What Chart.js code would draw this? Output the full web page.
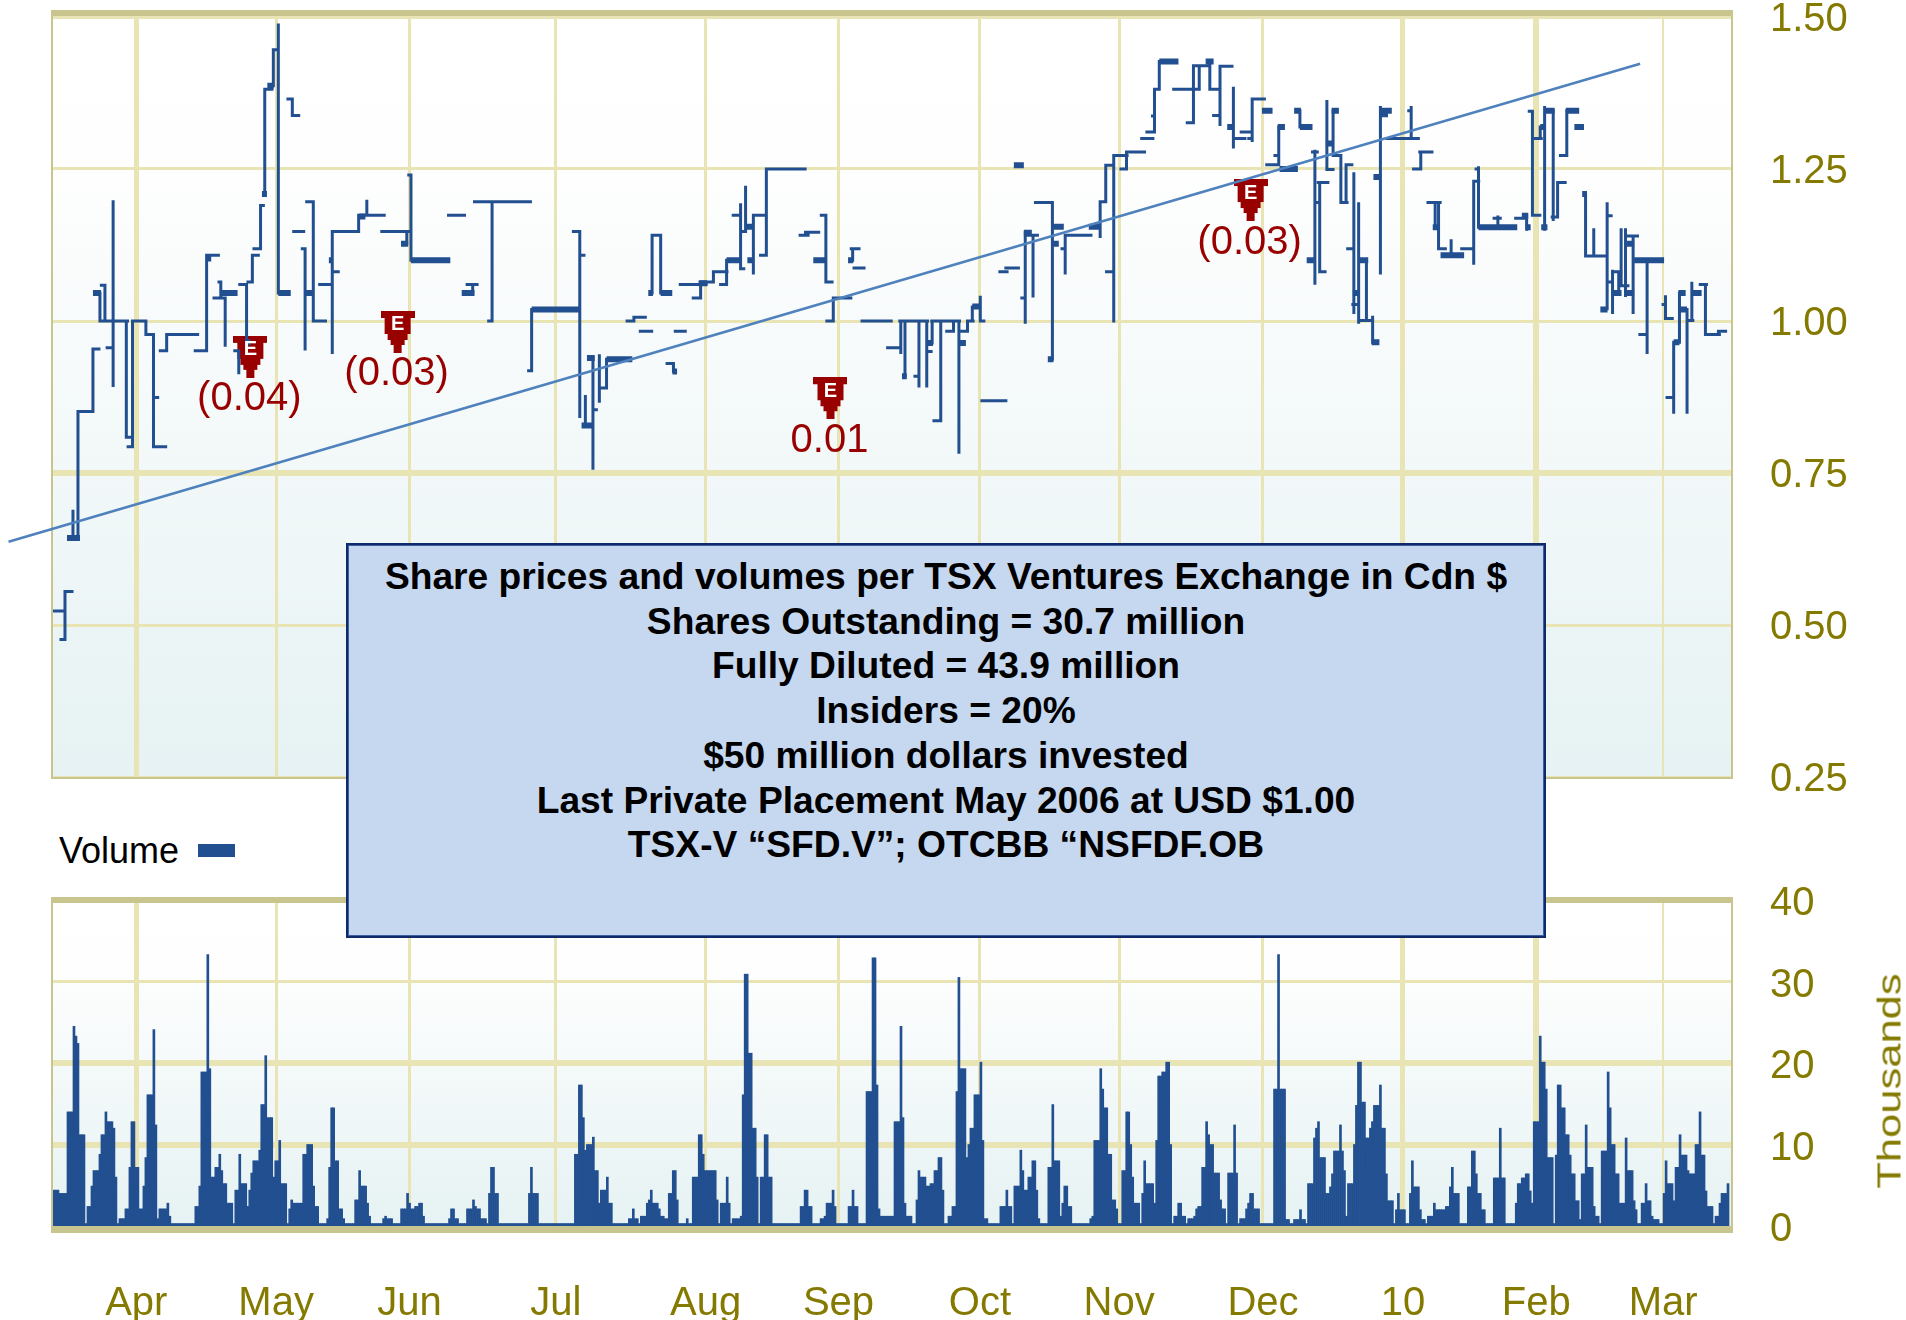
<!DOCTYPE html>
<html>
<head>
<meta charset="utf-8">
<title>Share prices and volumes</title>
<script src="https://cdn.jsdelivr.net/npm/chart.js@4/dist/chart.umd.min.js"></script>
<style>
    html, body { margin: 0; padding: 0; background: #fff; width: 1906px; height: 1320px; overflow: hidden; }
    canvas { position: absolute; left: 0; }
    #priceChart { top: 0; }
    #volumeChart { top: 880px; }
    #legendText { position: absolute; left: 59px; top: 830px; font: 36px "Liberation Sans"; color: #000; }
    #legendBox { position: absolute; left: 198px; top: 844px; width: 37px; height: 13px; background: #214f90; }
    #thousands {
        position: absolute; left: 1889px; top: 1081px; font: 34px "Liberation Sans"; color: #857a00;
        white-space: nowrap; transform: translate(-50%, -50%) rotate(-90deg) scaleX(1.28);
    }
    #infoBox {
        position: absolute; left: 346px; top: 543px; width: 1196px;
        background: #c6d8f0; border: 2px solid #0f2a6b; box-shadow: inset 0 0 0 1px #3d5f9e;
        font: bold 37.2px/44.7px "Liberation Sans"; color: #000; text-align: center; padding-top: 9px;
        box-sizing: content-box; height: 382px;
    }
</style>
</head>
<body>
<canvas id="priceChart" width="1906" height="800"></canvas>
<canvas id="volumeChart" width="1906" height="440"></canvas>
<div id="legendText">Volume</div>
<div id="legendBox"></div>
<div id="thousands">Thousands</div>
<div id="infoBox">
    Share prices and volumes per TSX Ventures Exchange in Cdn $<br>
    Shares Outstanding = 30.7 million<br>
    Fully Diluted = 43.9 million<br>
    Insiders = 20%<br>
    $50 million dollars invested<br>
    Last Private Placement May 2006 at USD $1.00<br>
    TSX-V “SFD.V”; OTCBB “NSFDF.OB
</div>
<script>
// x axis runs over 840 time slots, one year of trading
const monthLabels = ["Apr", "May", "Jun", "Jul", "Aug", "Sep", "Oct", "Nov", "Dec", "10", "Feb", "Mar"];
const monthSlots = [41.7, 111.7, 178.5, 251.7, 326.7, 393.2, 464, 533.7, 605.7, 675.8, 742.5, 806];
const monthLineWidths = [5, 3, 3, 3, 3, 3, 3, 3, 3, 5, 6, 2];

const priceTicks = [0.25, 0.5, 0.75, 1, 1.25, 1.5];
const priceLineWidths = [3, 3, 6, 3, 3, 4];
const volumeTicks = [0, 10, 20, 30, 40];
const volumeLineWidths = [0, 6, 6, 3, 0];

// price path, each line of the two arrays is one unbroken run, null = no trades
const priceSlots = [
    0, 6, null,
    9.5, 6, 6, 4, null,
    10, 10, null,
    12.5, 12.5, 20, 20, 23, null,
    24.2, 26, 26, null,
    23.5, 23.5, 37.3, null,
    30.1, 30.1, null,
    27.1, 30.1, null,
    36.7, 36.7, 39.6, null,
    37.6, 39.8, 39.8, 46.5, 46.5, 50.3, 50.3, 56.4, null,
    50.3, 52.4, null,
    53.7, 56.9, 56.9, 72.4, null,
    71.2, 76.9, 76.9, 82.8, null,
    83.1, 84, 84, null,
    80.6, 86.2, 86.2, null,
    91, 93, 93, null,
    93.5, 96.9, 96.9, null,
    97.6, 99.8, 99.8, 102.8, null,
    100.6, 103.9, 103.9, 105.3, null,
    106, 106, 109.6, null,
    110.3, 110.3, 112.8, null,
    112.8, 112.8, null,
    117.6, 119.8, 119.8, 123, null,
    120.5, 125.5, null,
    124.8, 126.2, 126.2, null,
    127, 130.3, 130.3, 136.4, null,
    133.5, 139.8, null,
    139.8, 139.8, 153, 153, 165.8, null,
    157.1, 157.1, null,
    139.8, 142.8, null,
    164.6, 179.2, null,
    178.1, 179.2, 179.2, null,
    177.1, 177.1, null,
    198, 206, null,
    211, 239, null,
    219.8, 219.8, 218.1, null,
    207.3, 212.3, null,
    210.1, 210.1, null,
    239.6, 239.6, 238.1, null,
    260.5, 263.7, 263.7, null,
    263.7, 265.8, null,
    270.3, 270.3, null,
    266.5, 266.5, null,
    270.3, 272, null,
    273.5, 273.5, null,
    273.5, 277.1, 277.1, null,
    287.4, 290.8, 290.8, 296.5, null,
    294, 299.7, null,
    311.5, 316.5, null,
    307.4, 310.6, 310.6, null,
    299.9, 299.9, 304.2, 304.2, null,
    314, 327, null,
    320.5, 324.2, 324.2, null,
    323.9, 330.6, 330.6, 337.4, null,
    334.2, 337.2, 337.2, null,
    344.2, 344.2, 345.8, null,
    340.5, 344.2, null,
    346.7, 346.7, 344.6, null,
    350.6, 350.6, 357.1, 357.1, 376.5, null,
    354.2, 357.1, 357.1, null,
    374, 378, null,
    376.7, 383.3, null,
    384.6, 386.9, 386.9, 390, null,
    399.6, 403.5, null,
    400.3, 400.3, null,
    401, 406, null,
    387.4, 390.6, 390.6, 399.4, null,
    405, 419.6, null,
    423.9, 437.8, null,
    424.4, 424.4, null,
    417.8, 424.4, null,
    426.5, 426.5, null,
    433.5, 433.5, null,
    431.5, 433.5, null,
    437.4, 437.4, null,
    437.4, 439.6, null,
    439.9, 453.8, null,
    440.1, 440.1, null,
    444.4, 444.4, 441, null,
    447.4, 450.8, 450.8, null,
    453.5, 453.5, null,
    453.5, 457.8, 457.8, 460.6, null,
    460.2, 460.2, null,
    464.2, 464.2, 466, null,
    465, 477, null,
    474, 477.6, null,
    477, 483.3, null,
    486.7, 486.7, null,
    485, 486.7, null,
    486.7, 492.8, null,
    490.6, 490.6, null,
    491.8, 500.3, 500.3, null,
    505.1, 506.7, null,
    506.7, 506.7, 519.6, null,
    524.2, 524.2, 527, 527, 530.6, null,
    531, 531, 537.7, null,
    527.4, 531, null,
    534.6, 537.4, 537.4, 546.4, null,
    545, 550.6, null,
    547.6, 551.4, 551.4, 553.8, 553.8, null,
    550.4, 551.4, null,
    561, 573.8, null,
    567.8, 570.9, 570.9, 578.6, null,
    573.8, 573.8, null,
    579.1, 579.1, 584.2, null,
    584.2, 584.2, 590.2, null,
    581, 584.2, null,
    590.9, 590.9, null,
    590.9, 596.7, null,
    594.8, 600.3, null,
    600.3, 600.3, 606.4, null,
    598.6, 600.3, null,
    613.6, 613.6, 607.6, null,
    611.7, 613.6, null,
    624.2, 624.2, null,
    637.7, 637.7, 640.8, null,
    640.8, 640.8, 644.7, 644.7, 647.8, null,
    647.3, 647.3, 650.2, null,
    631.7, 631.7, null,
    630.5, 632.9, null,
    631.7, 634.1, null,
    634.1, 634.1, 636.8, null,
    633.4, 638.2, null,
    651.2, 651.2, null,
    648.1, 651.2, null,
    650.7, 653.3, null,
    653.6, 653.6, null,
    657.5, 657.5, null,
    653.6, 659.9, null,
    660.6, 660.6, null,
    664.5, 664.5, null,
    667.8, 683.5, null,
    679.9, 679.9, null,
    678.7, 679.9, null,
    684.2, 690.3, null,
    684.7, 684.7, 681.1, null,
    688.3, 694.4, null,
    691.9, 691.9, null,
    693.6, 693.6, 697, null,
    699.9, 699.9, null,
    705.2, 711.2, null,
    711.2, 711.2, 713.7, null,
    713.6, 713.6, null,
    712.4, 713.6, null,
    723.3, 723.3, null,
    721.4, 724.5, null,
    732.2, 737.7, null,
    737.7, 737.7, null,
    739, 740.6, 740.6, 744.3, null,
    740.6, 745, null,
    744.5, 744.5, null,
    746.7, 746.7, null,
    751, 751, null,
    750.5, 753.2, 753.2, 757, null,
    757.8, 757.8, 754.6, null,
    767.2, 767.2, 777.5, null,
    771.3, 771.3, null,
    778, 778, null,
    778, 780, null,
    780.7, 780.7, null,
    780.7, 784.3, null,
    778, 780.7, null,
    783.8, 783.8, null,
    785, 785, 788.4, null,
    787.2, 787.2, null,
    787.2, 793.2, null,
    791, 791, null,
    798, 798, null,
    794.4, 798, null,
    807.2, 807.2, 810.6, null,
    806, 807.2, null,
    814.2, 814.2, null,
    811.3, 811.3, null,
    808, 811.3, null,
    818, 818, null,
    818, 820.9, null,
    820.4, 820.4, null,
    824.6, 827.7, null,
    827.2, 827.2, 834.2, null,
    833.7, 833.7, 837.3
];
const priceValues = [
    .523, .523, null,
    .555, .555, .476, .476, null,
    .687, .643, null,
    .643, .851, .851, .954, .954, null,
    1.059, 1.059, 1, null,
    1.046, 1, 1, null,
    1.196, .894, null,
    .956, .956, null,
    1, .809, .809, null,
    .793, .793, 1, 1, .978, .978, .793, .793, null,
    .874, .874, null,
    .951, .951, .978, .978, null,
    .951, .951, 1.108, 1.108, null,
    1.064, 1.064, 1.042, null,
    1.038, 1.038, .96, null,
    .951, .951, .915, null,
    1.06, 1.06, .965, null,
    1.064, 1.064, 1.108, 1.108, null,
    1.119, 1.119, 1.19, 1.19, null,
    1.209, 1.381, 1.381, null,
    1.387, 1.446, 1.446, null,
    1.487, 1.046, null,
    1.365, 1.365, 1.338, 1.338, null,
    1.147, 1.147, null,
    1.119, 1.119, .954, null,
    1.196, 1.196, 1, 1, null,
    1.06, 1.06, null,
    .948, 1.147, 1.147, 1.174, 1.174, null,
    1.174, 1.197, null,
    1.081, 1.081, null,
    1.147, 1.147, null,
    1.24, 1.24, 1.1, null,
    1.127, 1.144, null,
    1.174, 1.174, null,
    1.196, 1.196, null,
    1.196, 1, 1, null,
    1.06, 1.06, null,
    1.06, 1.046, null,
    1.019, .918, .918, null,
    1.147, 1.147, .843, null,
    1.108, 1.108, null,
    .939, .758, null,
    .876, .828, null,
    .854, .854, null,
    .943, .868, null,
    .89, .89, .937, null,
    1, 1, 1.006, 1.006, null,
    .983, .983, null,
    .983, .983, null,
    .93, .93, .917, null,
    1.046, 1.141, 1.141, 1.046, null,
    1.06, 1.06, null,
    1.038, 1.038, 1.06, null,
    1.064, 1.064, 1.081, 1.081, null,
    1.06, 1.06, 1.1, null,
    1.191, 1.086, 1.086, null,
    1.174, 1.174, null,
    1.22, 1.147, 1.147, null,
    1.079, 1.174, 1.174, 1.25, 1.25, null,
    1.108, 1.108, 1.174, null,
    1.141, 1.141, null,
    1.146, 1.146, null,
    1.174, 1.174, 1.064, 1.064, null,
    1.119, 1.119, null,
    1.119, 1.1, null,
    1.087, 1.087, null,
    1, 1, 1.038, 1.038, null,
    1, 1, null,
    1, 1, null,
    1, .948, null,
    .956, .956, null,
    1, .909, null,
    1, .893, null,
    .909, .909, null,
    1, .893, null,
    .95, .95, null,
    1, 1, null,
    1, .964, null,
    1, .836, .836, null,
    .983, .983, 1, null,
    1, .784, null,
    .983, .983, 1, 1, null,
    1, 1.023, null,
    1.039, 1, 1, null,
    .869, .869, null,
    1.081, 1.081, null,
    1.087, 1.087, null,
    1.145, .998, null,
    1.038, 1.038, null,
    1.141, 1.141, null,
    1.141, 1.041, null,
    1.195, 1.195, .937, null,
    1.119, 1.119, null,
    1.079, 1.141, 1.141, null,
    1.139, 1.196, 1.196, 1.256, 1.256, null,
    1, 1.272, 1.272, null,
    1.081, 1.081, null,
    1.25, 1.25, 1.278, 1.278, null,
    1.3, 1.3, null,
    1.311, 1.311, 1.381, 1.381, 1.427, null,
    1.337, 1.337, null,
    1.381, 1.381, null,
    1.326, 1.326, 1.42, 1.42, null,
    1.42, 1.381, null,
    1.427, 1.381, 1.381, null,
    1.323, 1.419, 1.419, null,
    1.338, 1.338, null,
    1.383, 1.286, null,
    1.3, 1.3, null,
    1.311, 1.311, null,
    1.297, 1.365, 1.365, null,
    1.3, 1.3, null,
    1.319, 1.257, 1.257, null,
    1.272, 1.272, null,
    1.346, 1.319, null,
    1.361, 1.249, 1.249, null,
    1.346, 1.272, 1.272, 1.195, 1.195, null,
    1.195, 1.257, 1.257, null,
    1.279, 1.062, null,
    1.278, 1.278, null,
    1.195, 1.195, null,
    1.228, 1.081, 1.081, null,
    1.228, 1.228, null,
    1.242, 1.014, null,
    1.119, 1.119, null,
    1.027, 1.027, null,
    1.193, .998, null,
    1.1, 1.001, null,
    1.001, 1.001, null,
    1.006, .965, null,
    1.351, 1.079, null,
    1.3, 1.3, null,
    1.3, 1.351, null,
    1.346, 1.346, null,
    1.278, 1.278, null,
    1.278, 1.25, 1.25, null,
    1.195, 1.195, null,
    1.195, 1.152, null,
    1.195, 1.119, 1.119, null,
    1.132, 1.108, null,
    1.119, 1.119, null,
    1.095, 1.23, 1.23, null,
    1.252, 1.154, null,
    1.25, 1.25, null,
    1.171, 1.154, null,
    1.169, 1.169, null,
    1.169, 1.169, null,
    1.173, 1.151, null,
    1.345, 1.345, 1.174, 1.174, null,
    1.3, 1.3, null,
    1.3, 1.319, null,
    1.351, 1.151, null,
    1.346, 1.167, null,
    1.171, 1.171, 1.228, 1.228, null,
    1.346, 1.272, 1.272, null,
    1.209, 1.107, 1.107, null,
    1.15, 1.108, null,
    1.193, 1.02, null,
    1.173, 1.173, null,
    1.082, 1.014, null,
    1.081, 1.081, null,
    1.064, 1.064, null,
    1.081, 1.046, null,
    1.15, 1.058, 1.058, null,
    1.15, 1.042, null,
    1.14, 1.14, null,
    1.14, 1.014, null,
    1.1, .948, null,
    .978, .978, null,
    1.04, 1.004, 1.004, null,
    1.027, 1.027, null,
    1.046, .965, null,
    .965, .85, null,
    .874, .874, null,
    1.019, .85, null,
    1.001, 1.001, null,
    1.001, 1.062, null,
    1.06, 1.06, null,
    1.06, .978, .978, null,
    .978, .983, .983
];

// short stretches where the price sat still, drawn heavier
const heavyStart = [7, 20, 77.4, 83.7, 96.7, 104.6, 107.3, 112.8, 126.5, 153.3, 138.1, 174.2, 179.2, 204.6, 239.6,
    264.6, 267.3, 277.1, 298, 304.2, 310.1, 323.5, 337.2, 346.7, 347.6, 380.6, 398, 425, 437.4, 453.9, 460.2,
    481, 486, 498, 500.6, 500.6, 518.5, 553.8, 577, 587.8, 605.2, 613.1, 614, 621.3, 624.2, 627.6, 637.2, 640.1,
    650.7, 653.6, 660.1, 661, 664.2, 664.2, 690.7, 694.6, 713.6, 735.3, 737.3, 744.5, 745, 746.7, 757.3, 761.6,
    765.5, 774.6, 781.1, 786.7, 787.2, 791.5, 811.3, 813.7, 813.7, 820.4];
const heavyEnd = [13.5, 24, 79.2, 92.4, 98.9, 107.1, 110.5, 119, 130.6, 156.4, 140, 177.8, 198.9, 211, 263.5,
    270.3, 271.2, 290, 300.3, 310, 312.4, 327.4, 344, 350.3, 350.6, 386.9, 400.6, 427.4, 440.5, 457, 464.2,
    486, 490, 500.8, 506, 503.5, 524.4, 563.4, 581, 590.9, 610.5, 616.7, 623.2, 624.7, 630.5, 631.2, 640.6, 643.7,
    653.6, 658.4, 664, 664.2, 670.2, 668.3, 693.9, 706.4, 733, 738.5, 739.7, 747.4, 748.1, 751.7, 764, 766.4,
    767.9, 778.2, 785.2, 791.5, 791.5, 806.5, 814.2, 817.3, 818, 825.3];
const heavyValue = [.643, 1.046, 1.103, 1.046, .965, 1.209, 1.387, 1.046, 1.046, 1.172, 1.1, 1.127, 1.1, 1.046, 1.019,
    .828, .939, .937, 1.046, 1.046, .917, 1.062, 1.1, 1.155, 1.1, 1.1, 1.1, .909, .964, .964, 1.024,
    1.256, 1.145, .937, 1.155, 1.127, 1.155, 1.427, 1.427, 1.319, 1.346, 1.319, 1.25, 1.346, 1.319, 1.1, 1.292, 1.346,
    1.046, 1.1, .965, 1.237, 1.346, 1.34, 1.154, 1.108, 1.154, 1.173, 1.154, 1.319, 1.154, 1.346, 1.346, 1.319,
    1.209, 1.019, 1.046, 1.046, 1.127, 1.1, .965, 1.046, 1.019, 1.046];

const trendSlots = [-22.25, 794.5];
const trendValues = [.637, 1.423];

const earningsSlots = [98.8, 172.5, 389.2, 599.5];
const earningsValues = [.941, .982, .873, 1.199];
const earningsLabels = ["(0.04)", "(0.03)", "0.01", "(0.03)"];

// volume in thousands, each value holds from its start slot up to the next one
const volumeStarts = [0, 3, 7, 10, 11, 12, 13, 16, 17, 19, 20, 23, 24, 26, 27, 30, 31, 32, 33, 36, 38, 39, 41, 43, 45, 46, 47,
    50, 51, 52, 53, 57, 58, 59, 71, 73, 74, 77, 78, 79, 81, 83, 84, 85, 87, 90, 91, 93, 94, 97, 98, 99, 100, 103, 104, 106, 107,
    110, 111, 113, 114, 117, 118, 119, 120, 125, 127, 130, 131, 133, 137, 138, 139, 141, 143, 145, 146, 151, 153, 154, 157, 158,
    159, 165, 166, 167, 170, 174, 177, 178, 179, 181, 183, 185, 186, 198, 199, 201, 203, 207, 210, 211, 212, 214, 217, 218, 219,
    221, 223, 238, 239, 240, 243, 261, 263, 265, 266, 267, 270, 271, 273, 274, 277, 278, 280, 288, 290, 291, 293, 294, 297,
    298, 299, 300, 303, 304, 306, 308, 310, 312, 313, 317, 318, 320, 323, 325, 326, 332, 333, 334, 337, 338, 339, 340, 344, 345,
    346, 348, 350, 352, 353, 354, 356, 358, 360, 374, 376, 378, 380, 384, 386, 387, 390, 391, 392, 398, 400, 401, 403, 407, 410,
    412, 413, 414, 421, 424, 425, 426, 427, 430, 432, 433, 434, 437, 439, 441, 443, 445, 446, 448, 450, 452, 453, 454, 457, 458,
    459, 461, 464, 465, 466, 468, 474, 477, 478, 480, 481, 484, 485, 486, 488, 490, 492, 493, 494, 498, 500, 501, 504, 505, 506,
    508, 510, 519, 520, 521, 524, 525, 526, 528, 530, 532, 533, 535, 537, 539, 540, 541, 544, 545, 546, 547, 551, 552, 553, 555,
    557, 559, 560, 561, 563, 565, 567, 568, 571, 572, 573, 575, 577, 578, 579, 581, 584, 585, 587, 588, 591, 592, 593, 594, 597,
    598, 599, 601, 604, 611, 613, 614, 617, 619, 621, 624, 625, 627, 628, 631, 632, 633, 634, 637, 639, 640, 641, 644, 645, 646,
    647, 648, 651, 652, 653, 655, 657, 659, 660, 661, 664, 665, 667, 668, 671, 672, 673, 674, 677, 679, 680, 681, 684, 685, 687,
    688, 691, 692, 697, 699, 700, 701, 704, 708, 710, 712, 713, 715, 717, 721, 724, 725, 727, 732, 733, 735, 737, 739, 740, 741,
    744, 745, 747, 748, 751, 752, 753, 755, 757, 759, 760, 762, 764, 765, 767, 768, 771, 772, 774, 775, 778, 779, 780, 782, 784,
    787, 788, 791, 792, 793, 795, 797, 798, 800, 801, 804, 806, 807, 808, 811, 812, 814, 815, 818, 819, 822, 824, 825, 827, 828,
    831, 832, 834, 835, 838];
const volumeValues = [4.4, 4, 14, 24.5, 23.3, 22.4, 11.2, .3, 2.4, 4.9, 6.8, 8.8, 11.2, 14, 12.8, 12, 6, .3, .9, 2.1, 7.2, 12.8, 7.2, 2.1, 4.9, 8.4, 16.1,
    24.1, 12.4, .9, 2.1, 2.8, 1.2, .3, 2.4, 4.9, 18.9, 33.3, 19.3, 6, 7.2, 8.8, 6.8, 5.2, 2.8, .3, 4.4, 8.8, 5.2, 2.4, 4.4, 6.5, 8, 9.3, 14.9, 20.9, 13.3,
    6, 8, 10.5, 5.2, .3, 2.1, 3.2, 2.8, 8.8, 10, 4.9, 2.4, .3, .9, 7.2, 14.5, 8, 2.1, .9, .3, 3.2, 6.8, 4.9, 2.8, 1.2,
    .3, .9, 1.2, .9, .3, 2.1, 4, 2.8, 2.1, 2.4, 2.8, 1.2, .3, .9, 2.1, .9, .3, 2.1, 3.2, 2.4, 2.1, .9, .3, 4, 7.2,
    4, .3, 4, 7.2, 4, .3, 8.8, 17.3, 13.3, 9.3, 10, 10.9, 6.8, 2.8, 4.4, 6, 2.8, .3, .9, 2.1, .9, .3, 1.2, 2.8,
    3.2, 4.4, 2.8, 2.1, 1.2, .9, 4, 6.8, 3.2, .3, .9, .3, 6, 11.2, 8.8, 6.8, 3.2, .3, 2.8, 6, 2.8, .3, .9, 1.2, 16.1,
    30.9, 21.2, 12, 6, .3, 6, 11.2, 6, .3, 2.4, 4.4, 2.4, .3, .9, 1.2, 2.8, 4.4, 2.4, .3, 2.4, 4.4, 2.4, .3, 16.5, 32.9,
    17.3, 2.1, 1.2, 12.8, 24.5, 13.3, 2.8, 1.2, .3, 3.2, 6.8, 6, 4.9, 5.2, 6.8, 8.4, 4.4, .3, 1.2, 2.4, 16.5, 30.5, 19.3, 8.4, 10,
    12, 16.1, 20.1, 10.5, .9, .3, 2.4, 4.4, 2.4, .3, 4.9, 9.3, 6.8, 4.4, 6, 8, 4.4, .9, .3, 7.2, 14.9, 8, 1.2, 2.8, 4.9,
    2.4, .3, .9, 1.2, 10.5, 19.3, 16.8, 14.5, 8.8, 3.2, 2.1, .3, 6.8, 14, 10, 6, 2.8, .3, 4, 8, 5.2, 2.8, 10.5, 18.4, 18.9,
    20.1, 10, .3, 1.2, 2.8, 1.2, .3, .9, 1.2, 2.1, 2.4, 7.2, 12.8, 11.2, 10, 6.5, 3.2, 2.1, .3, 6.5, 12.4, 6.5, .3, .9, 2.1,
    2.8, 4, 2.1, .3, 16.8, 33.3, 16.8, .8, .3, .8, 2, .8, .3, 5.2, 10.8, 12, 12.8, 8.4, 4, 4.8, 6.4, 9.2, 12.4, 9.2, 6.8,
    1.2, 5.2, 10, 14.8, 20.1, 15.2, 10.8, 12, 12.8, 14.8, 17.3, 12, 6.4, 3.1, .3, 2, 4, 2, .3, 4, 8, 4.8, 2, .8, .3,
    1.2, 2.8, 2, 2.4, 4.8, 7.2, 4, .3, 4.8, 9.2, 6.4, 4, 2, .3, 5.9, 12, 5.9, .3, 2.8, 5.2, 5.9, 6.4, 4.3, 2.8, 12.8,
    23.3, 20.1, 16.8, 8.4, .3, 8.7, 17.3, 14.5, 11.2, 8.7, 6.4, 3.1, .8, 6.4, 12.4, 7.2, 2.4, 1.2, .3, 9.2, 18.9, 14.5, 10, 6.4, 2.8,
    10.8, 6.8, 3.1, 2, .3, 2.8, 5.2, 3.1, 1.2, .8, .3, 4, 8, 5.2, 3.1, 7.2, 11.2, 8.7, 6.8, 6.4, 10, 14, 8.7, 4.3, 2.4,
    .3, 1.2, 2.8, 4, 5.2];
const slotCount = 839;

const gridColor = "#e8e4b4";
const frameColor = "#c9c58f";
const axisColor = "#857a00";
const barColor = "#214f90";
const trendColor = "#4f81bd";
const earningsColor = "#990000";
const tickFont = { family: "Liberation Sans", size: 40, lineHeight: 1 };

function backdropPlugin(frameTop, frameBottom) {
    return {
        id: "backdrop",
        beforeDraw(chart) {
            const a = chart.chartArea, ctx = chart.ctx;
            const g = ctx.createLinearGradient(0, a.top, 0, a.bottom);
            g.addColorStop(0, "#ffffff");
            g.addColorStop(0.2, "#fefefe");
            g.addColorStop(1, "#e6f2f3");
            ctx.save();
            ctx.fillStyle = g;
            ctx.fillRect(a.left, a.top, a.width, a.height);
            ctx.restore();
        },
        beforeDatasetsDraw(chart) {
            const a = chart.chartArea, ctx = chart.ctx;
            ctx.save();
            ctx.fillStyle = frameColor;
            ctx.fillRect(a.left - 2, a.top - frameTop[0], a.width + 4, frameTop[1]);
            ctx.fillRect(a.left - 2, a.bottom, a.width + 4, frameBottom);
            ctx.fillRect(a.left - 2, a.top - frameTop[0], 2, a.height + frameTop[0]);
            ctx.fillRect(a.right, a.top - frameTop[0], 2, a.height + frameTop[0]);
            ctx.restore();
        }
    };
}

function slotAxis(showLabels) {
    return {
        type: "linear",
        min: 0,
        max: 840,
        offset: false,
        afterBuildTicks(scale) {
            scale.ticks = monthSlots.map(v => ({ value: v }));
        },
        afterFit(scale) {
            scale.height = showLabels ? 94 : 0;
            scale.paddingLeft = 0;
            scale.paddingRight = 0;
        },
        border: { display: false },
        grid: {
            color: gridColor,
            drawTicks: false,
            offset: false,
            lineWidth: ctx => monthLineWidths[ctx.index]
        },
        ticks: {
            display: showLabels,
            autoSkip: false,
            maxRotation: 0,
            padding: 58,
            color: axisColor,
            font: tickFont,
            callback: (value, index) => monthLabels[index]
        }
    };
}

function valueAxis(tickValues, lineWidths, min, max, format, labelShift) {
    return {
        position: "right",
        min: min,
        max: max,
        afterBuildTicks(scale) {
            scale.ticks = tickValues.map(v => ({ value: v }));
        },
        afterFit(scale) {
            scale.width = 175;
            scale.paddingTop = 0;
            scale.paddingBottom = 0;
        },
        border: { display: false },
        grid: {
            color: gridColor,
            drawTicks: false,
            lineWidth: ctx => lineWidths[ctx.index]
        },
        ticks: {
            padding: 39,
            labelOffset: labelShift,
            color: axisColor,
            font: tickFont,
            callback: format
        }
    };
}

function buildPricePoints() {
    let points = [];
    for (let n = 0; n < priceSlots.length; n++) {
        points.push({ x: priceSlots[n], y: priceValues[n] });
    }
    return points;
}

function buildHeavyPoints() {
    let points = [];
    for (let n = 0; n < heavyStart.length; n++) {
        points.push({ x: heavyStart[n], y: heavyValue[n] });
        points.push({ x: heavyEnd[n], y: heavyValue[n] });
        points.push({ x: null, y: null });
    }
    return points;
}

function buildVolumeBars() {
    let bars = [];
    let run = 0;
    for (let s = 0; s < slotCount; s++) {
        while (run + 1 < volumeStarts.length && volumeStarts[run + 1] <= s) {
            run++;
        }
        bars.push({ x: s + 0.5, y: volumeValues[run] });
    }
    return bars;
}

// stepped funnel of the earnings flag
function earningsFlag() {
    const c = document.createElement("canvas");
    c.width = 34;
    c.height = 42;
    const g = c.getContext("2d");
    g.fillStyle = earningsColor;
    g.fillRect(0, 0, 34, 7);
    g.fillRect(4, 7, 26, 16);
    g.fillRect(7, 23, 20, 6);
    g.fillRect(10, 29, 14, 5);
    g.fillRect(13, 34, 8, 8);
    return c;
}

const earningsText = {
    id: "earningsText",
    afterDatasetsDraw(chart) {
        const ctx = chart.ctx, xs = chart.scales.x, ys = chart.scales.y;
        ctx.save();
        ctx.textAlign = "center";
        ctx.textBaseline = "middle";
        for (let n = 0; n < earningsSlots.length; n++) {
            const x = xs.getPixelForValue(earningsSlots[n]);
            const y = ys.getPixelForValue(earningsValues[n]);
            ctx.fillStyle = "#fff";
            ctx.font = "bold 20px 'Liberation Sans'";
            ctx.fillText("E", x, y - 7);
            ctx.fillStyle = earningsColor;
            ctx.font = "40px 'Liberation Sans'";
            ctx.fillText(earningsLabels[n], x - 1, y + 42.5);
        }
        ctx.restore();
    }
};

new Chart(document.getElementById("priceChart"), {
    type: "line",
    data: {
        datasets: [
            {
                label: "Trend",
                data: trendSlots.map((s, n) => ({ x: s, y: trendValues[n] })),
                borderColor: trendColor,
                borderWidth: 2.5,
                pointRadius: 0,
                clip: false
            },
            {
                label: "Price",
                data: buildPricePoints(),
                borderColor: barColor,
                borderWidth: 3,
                borderCapStyle: "square",
                borderJoinStyle: "miter",
                pointRadius: 0,
                tension: 0,
                spanGaps: false
            },
            {
                label: "Flat",
                data: buildHeavyPoints(),
                borderColor: barColor,
                borderWidth: 6,
                pointRadius: 0,
                tension: 0,
                spanGaps: false
            },
            {
                label: "Earnings",
                data: earningsSlots.map((s, n) => ({ x: s, y: earningsValues[n] })),
                showLine: false,
                pointStyle: earningsFlag(),
                pointRadius: 16,
                pointHoverRadius: 16
            }
        ]
    },
    options: {
        responsive: false,
        animation: false,
        parsing: { xAxisKey: "x", yAxisKey: "y" },
        layout: { padding: { left: 53, top: 17, bottom: 23, right: 0 } },
        plugins: { legend: { display: false }, tooltip: { enabled: false } },
        scales: {
            x: slotAxis(false),
            y: valueAxis(priceTicks, priceLineWidths, 0.25, 1.5, v => v.toFixed(2), 3)
        }
    },
    plugins: [backdropPlugin([7, 6], 2), earningsText]
});

new Chart(document.getElementById("volumeChart"), {
    type: "bar",
    data: {
        datasets: [{
            label: "Volume",
            data: buildVolumeBars(),
            backgroundColor: barColor,
            borderWidth: 0,
            barThickness: 2
        }]
    },
    options: {
        responsive: false,
        animation: false,
        layout: { padding: { left: 53, top: 20, bottom: 0, right: 0 } },
        plugins: { legend: { display: false }, tooltip: { enabled: false } },
        scales: {
            x: slotAxis(true),
            y: valueAxis(volumeTicks, volumeLineWidths, 0, 40, v => String(v), 4)
        }
    },
    plugins: [backdropPlugin([3, 6], 7)]
});
</script>
</body>
</html>
